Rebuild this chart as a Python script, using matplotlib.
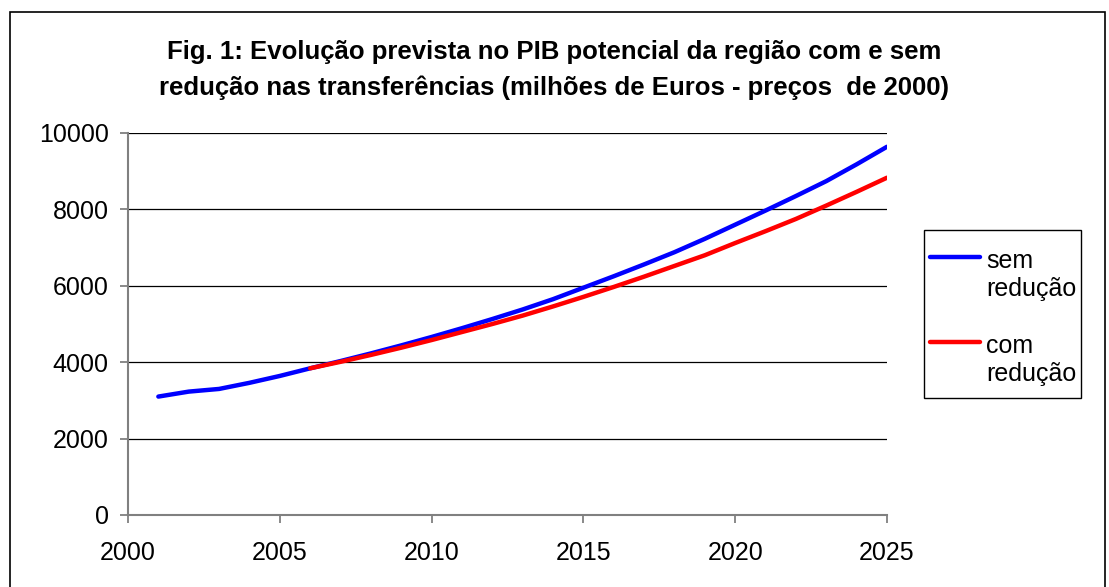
import numpy as np
import matplotlib
matplotlib.use("Agg")
import matplotlib.pyplot as plt
from matplotlib.patches import Rectangle

plt.rcParams['font.family'] = ['Liberation Sans', 'DejaVu Sans']

# Potential GDP, million euros (2000 prices)
years_sem = list(range(2001, 2026))
pib_sem = [3100, 3230, 3300, 3460, 3640, 3840, 4030, 4230, 4440, 4660,
           4890, 5130, 5380, 5650, 5950, 6250, 6560, 6880, 7230, 7600,
           7970, 8350, 8740, 9180, 9640]

years_com = list(range(2006, 2026))
pib_com = [3840, 4010, 4190, 4380, 4580, 4790, 5000, 5220, 5460, 5710,
           5970, 6240, 6520, 6800, 7120, 7430, 7750, 8100, 8460, 8830]

labels = ["sem\nredução", "com\nredução"]
title = ("Fig. 1: Evolução prevista no PIB potencial da região com e sem\n"
         "redução nas transferências (milhões de Euros - preços  de 2000)")

W, H = 1109, 587
fig = plt.figure(figsize=(W / 100, H / 100), dpi=100)
ax = fig.add_axes([128 / W, 1 - 515 / H, (887 - 128) / W, (515 - 133) / H])

ax.plot(years_sem, pib_sem, color="#0000ff", lw=3.2, label=labels[0], solid_capstyle="round")
ax.plot(years_com, pib_com, color="#ff0000", lw=3.2, label=labels[1], solid_capstyle="round")

ax.set_xlim(2000, 2025)
ax.set_ylim(0, 10000)
ax.set_xticks(range(2000, 2026, 5))
ax.set_yticks(range(0, 10001, 2000))
ax.yaxis.grid(True, color="black", lw=0.9)
ax.set_axisbelow(True)
for s in ["top", "right"]:
    ax.spines[s].set_visible(False)
for s in ["left", "bottom"]:
    ax.spines[s].set_color("#808080")
    ax.spines[s].set_linewidth(1.5)
ax.tick_params(axis="both", colors="#808080", length=5.8, width=1.3, labelsize=18,
               labelcolor="black")
ax.tick_params(axis="y", pad=8)
ax.tick_params(axis="x", pad=13)

fig.text(554 / W, 1 - 40 / H, title, ha="center", va="top",
         fontsize=18.5, fontweight="bold", linespacing=1.6)

# legend without its own frame; the box is drawn separately so it can be taller
leg = ax.legend(loc="upper left", bbox_to_anchor=(930 / W, 1 - 249 / H),
                bbox_transform=fig.transFigure, frameon=False,
                fontsize=18, handlelength=2.0, borderpad=0, labelspacing=1.32,
                handletextpad=0.25, borderaxespad=0)
# handle lines sit level with the first line of each label
for ln in leg.get_lines():
    ln.set_ydata(np.asarray(ln.get_ydata()) + 13.5)

fig.patches.append(Rectangle((924 / W, 1 - 398 / H), (1081 - 924) / W, (398 - 230) / H,
                             transform=fig.transFigure, fill=False,
                             edgecolor="black", lw=1.0))

fig.patches.append(Rectangle((10 / W, -0.05), (1105 - 10) / W, 1.05 - 12 / H,
                             transform=fig.transFigure, fill=False,
                             edgecolor="black", lw=1.2))

fig.savefig("out.png", dpi=100)
